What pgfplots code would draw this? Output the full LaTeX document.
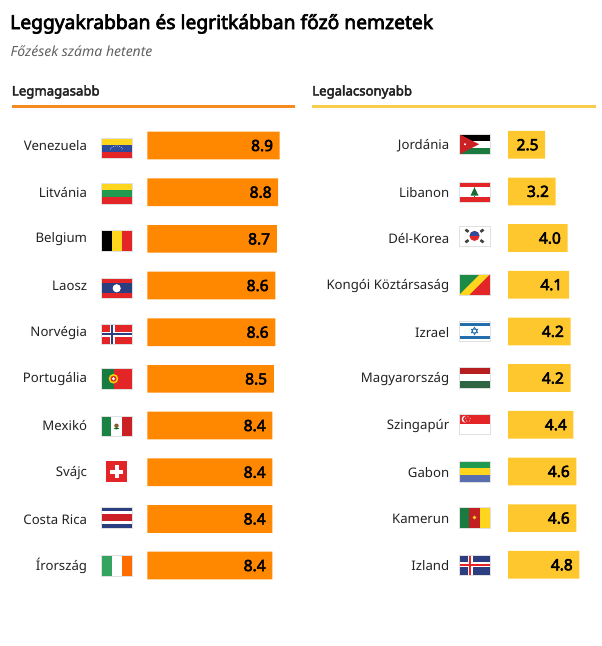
\documentclass[border=0pt]{standalone}
\usepackage{fontspec}
\setmainfont{Noto Sans}[BoldFont={Noto Sans},BoldFeatures={FakeBold=3.5}]
\usepackage{pgfplots}
\pgfplotsset{compat=1.18}
\definecolor{barO}{HTML}{FF8800}
\definecolor{barY}{HTML}{FFC72E}
\definecolor{lineO}{HTML}{F58A22}
\definecolor{lineY}{HTML}{F8CC4C}
\definecolor{txt}{HTML}{222222}
\definecolor{fR}{HTML}{E32528}
\definecolor{fG}{HTML}{1F9A4F}
\definecolor{fB}{HTML}{2E4A9A}
\definecolor{fY}{HTML}{FFD51E}
\definecolor{fN}{HTML}{2B3E80}
\newcommand\flagat[3]{\begin{scope}[shift={(#1,#2)}]#3\draw[black!12,line width=0.4pt] (0,0) rectangle (31,20.5);\end{scope}}
\newcommand\hs[3]{\fill[#3] (0,#1) rectangle (31,#2);}
\newcommand\vs[3]{\fill[#3] (#1,0) rectangle (#2,20.5);}
\pgfplotsset{
  cat/.style={
    xbar, bar shift=0pt, bar width=27.7pt, x=14.88pt, y=46.67pt, y dir=reverse,
    xmin=0, xmax=9.5, ymin=-0.5, ymax=9.5, clip=false,
    axis line style={draw=none}, tick style={draw=none},
    xtick=\empty, ytick={0,...,9},
    point meta=x,
    yticklabel style={anchor=east, inner sep=0pt, xshift=-55.8pt, yshift=-0.4pt, text=txt, font=\fontsize{13.2}{16}\selectfont},
    nodes near coords={\pgfmathprintnumber[fixed,fixed zerofill,precision=1,assume math mode=true]{\pgfplotspointmeta}},
    nodes near coords style={anchor=east, inner sep=0pt, xshift=-6.5pt, text=black, font=\fontsize{15.5}{18}\selectfont\bfseries},
  }
}
\begin{document}
\begin{tikzpicture}
\begin{scope}[x=1pt,y=-1pt]
\path[use as bounding box] (0,0) rectangle (600,646);
\node[anchor=base west,inner sep=0pt,font=\fontsize{19.25}{22}\selectfont\bfseries] at (10,29) {Leggyakrabban és legritkábban főző nemzetek};
\node[anchor=base west,inner sep=0pt,font=\fontsize{14}{17}\selectfont\itshape,text=black!62] at (10.5,56.5) {Főzések száma hetente};
\node[anchor=base west,inner sep=0pt,font=\fontsize{13.2}{16}\selectfont\bfseries,text=txt] at (11.7,95.5) {Legmagasabb};
\node[anchor=base west,inner sep=0pt,font=\fontsize{13.2}{16}\selectfont\bfseries,text=txt] at (312,95.5) {Legalacsonyabb};
\fill[lineO] (11.5,104.5) rectangle (295,107.5);
\fill[lineY] (312,104.5) rectangle (595.5,107.5);
\end{scope}

\begin{axis}[cat, name=L, at={(147.3pt,-122.2pt)}, anchor=north west,
  yticklabels={Venezuela,Litvánia,Belgium,Laosz,Norvégia,Portugália,Mexikó,Svájc,Costa Rica,Írország}]
\addplot[fill=barO,draw=none] coordinates {(8.9,0) (8.8,1) (8.7,2) (8.6,3) (8.6,4) (8.5,5) (8.4,6) (8.4,7) (8.4,8) (8.4,9)};
\end{axis}
\begin{axis}[cat, name=R, at={(508pt,-121.4pt)}, anchor=north west,
  xmax=6, yticklabel style={xshift=1.5pt,yshift=-0.5pt},
  yticklabels={Jordánia,Libanon,Dél-Korea,Kongói Köztársaság,Izrael,Magyarország,Szingapúr,Gabon,Kamerun,Izland}]
\addplot[fill=barY,draw=none] coordinates {(2.5,0) (3.2,1) (4.0,2) (4.1,3) (4.2,4) (4.2,5) (4.4,6) (4.6,7) (4.6,8) (4.8,9)};
\end{axis}

\begin{scope}[x=1pt,y=-1pt]
% Venezuela
\flagat{101.2}{138}{\hs{0}{6.8}{fY}\hs{6.8}{13.7}{fB}\hs{13.7}{20.5}{fR}
  \foreach \a in {30,47,64,81,98,115,132,149}{\fill[white] ({15.5+7*cos(\a+1)},{14-6*sin(\a+1)}) circle (0.4);}}
% Lithuania
\flagat{101.2}{183.5}{\hs{0}{6.8}{fY}\hs{6.8}{13.7}{fG}\hs{13.7}{20.5}{fR}}
% Belgium
\flagat{101.2}{230.5}{\vs{0}{10.3}{black}\vs{10.3}{20.7}{fY}\vs{20.7}{31}{fR}}
% Laos
\flagat{101.2}{278}{\hs{0}{5.1}{fR}\hs{5.1}{15.4}{fN}\hs{15.4}{20.5}{fR}\fill[white] (15.5,10.25) circle (4.1);}
% Norway
\flagat{101.2}{324}{\hs{0}{20.5}{fR}\fill[white] (8.5,0) rectangle (13.5,20.5);\fill[white] (0,7.75) rectangle (31,12.75);
  \fill[fN] (10,0) rectangle (12,20.5);\fill[fN] (0,9.25) rectangle (31,11.25);}
% Portugal
\flagat{101}{368.5}{\vs{0}{12.5}{fG!80!black}\vs{12.5}{31}{fR}\fill[yellow!70!orange] (12.5,10.25) circle (4.8);\fill[fR] (12.5,10.25) circle (3);\fill[white] (12.5,10.25) circle (1.6);}
% Mexico
\flagat{101}{415.7}{\vs{0}{10.3}{fG!85!black}\vs{10.3}{20.7}{white}\vs{20.7}{31}{fR!90!black}\fill[brown!70!black] (15.5,10) circle (2.2);\fill[green!40!black] (15.5,12.8) ellipse (2.5 and 0.8);}
% Switzerland
\begin{scope}[shift={(106.3,461.3)}]\fill[fR] (0,0) rectangle (20.4,20.5);\fill[white] (8.2,4) rectangle (12.2,16.5);\fill[white] (4,8.2) rectangle (16.4,12.2);\end{scope}
% Costa Rica
\flagat{101}{507.3}{\hs{0}{3.4}{fN}\hs{3.4}{6.8}{white}\hs{6.8}{13.7}{fR!90!black}\hs{13.7}{17.1}{white}\hs{17.1}{20.5}{fN}}
% Ireland
\flagat{101.2}{555.3}{\vs{0}{10.3}{fG!90!white}\vs{10.3}{20.7}{white}\vs{20.7}{31}{orange!85!red}}

% Jordan
\flagat{459}{134}{\hs{0}{6.8}{black}\hs{6.8}{13.7}{white}\hs{13.7}{20.5}{fG!80!black}\fill[fR!90!black] (0,0)--(20,10.25)--(0,20.5)--cycle;\fill[white] (6,10.25) circle (1.1);}
% Lebanon
\flagat{459}{181.7}{\hs{0}{5.1}{fR}\hs{5.1}{15.4}{white}\hs{15.4}{20.5}{fR}\fill[fG!70!black] (15.5,5.5)--(19.5,14)--(11.5,14)--cycle;\fill[brown!60!black] (14.9,14) rectangle (16.1,15);}
% Korea
\flagat{459}{225.7}{\hs{0}{20.5}{white}\fill[fR] (15.5,10.25) circle (5);\fill[fB] (10.5,10.25) arc[start angle=180,end angle=360,radius=5]--cycle;
  \foreach \px/\py/\ang in {8/5/-35,23/5/35,8/15.5/35,23/15.5/-35}{\fill[black!75,rotate around={\ang:(\px,\py)}] (\px-1.9,\py-1.3) rectangle (\px+1.9,\py+1.3);}}
% Congo
\flagat{459}{274.3}{\hs{0}{20.5}{fY}\fill[fG!90!black] (0,0)--(20.5,0)--(0,20.5)--cycle;\fill[fR] (31,0)--(31,20.5)--(10.5,20.5)--cycle;}
% Israel
\flagat{459}{320.7}{\hs{0}{20.5}{white}\hs{2.5}{5.5}{fB!80!cyan}\hs{15}{18}{fB!80!cyan}
  \draw[fB!80!cyan,line width=0.7pt] (15.5,6.5)--(18.7,12)--(12.3,12)--cycle (15.5,14)--(18.7,8.5)--(12.3,8.5)--cycle;}
% Hungary
\flagat{459}{367.3}{\hs{0}{6.8}{fR!80!black}\hs{6.8}{13.7}{white}\hs{13.7}{20.5}{fG!60!black!75!gray}}
% Singapore
\flagat{459}{414}{\hs{0}{10.25}{fR}\hs{10.25}{20.5}{white}\fill[white] (6,5.1) circle (3.4);\fill[fR] (7.3,5.1) circle (3.1);\foreach \a in {90,162,234,306,18}{\fill[white] ({9+2.3*cos(\a)},{5.1-2.3*sin(\a)}) circle (0.5);}}
% Gabon
\flagat{459}{461.3}{\hs{0}{6.8}{fG}\hs{6.8}{13.7}{fY}\hs{13.7}{20.5}{fB!80!white}}
% Cameroon
\flagat{459}{507.3}{\vs{0}{10.3}{fG!80!black}\vs{10.3}{20.7}{fR!85!black}\vs{20.7}{31}{fY}\fill[fY] (15.5,10.25) circle (1.9);}
% Iceland
\flagat{459}{554.7}{\hs{0}{20.5}{fN}\fill[white] (8.5,0) rectangle (13.5,20.5);\fill[white] (0,7.75) rectangle (31,12.75);
  \fill[fR] (10,0) rectangle (12,20.5);\fill[fR] (0,9.25) rectangle (31,11.25);}
\end{scope}
\end{tikzpicture}
\end{document}
